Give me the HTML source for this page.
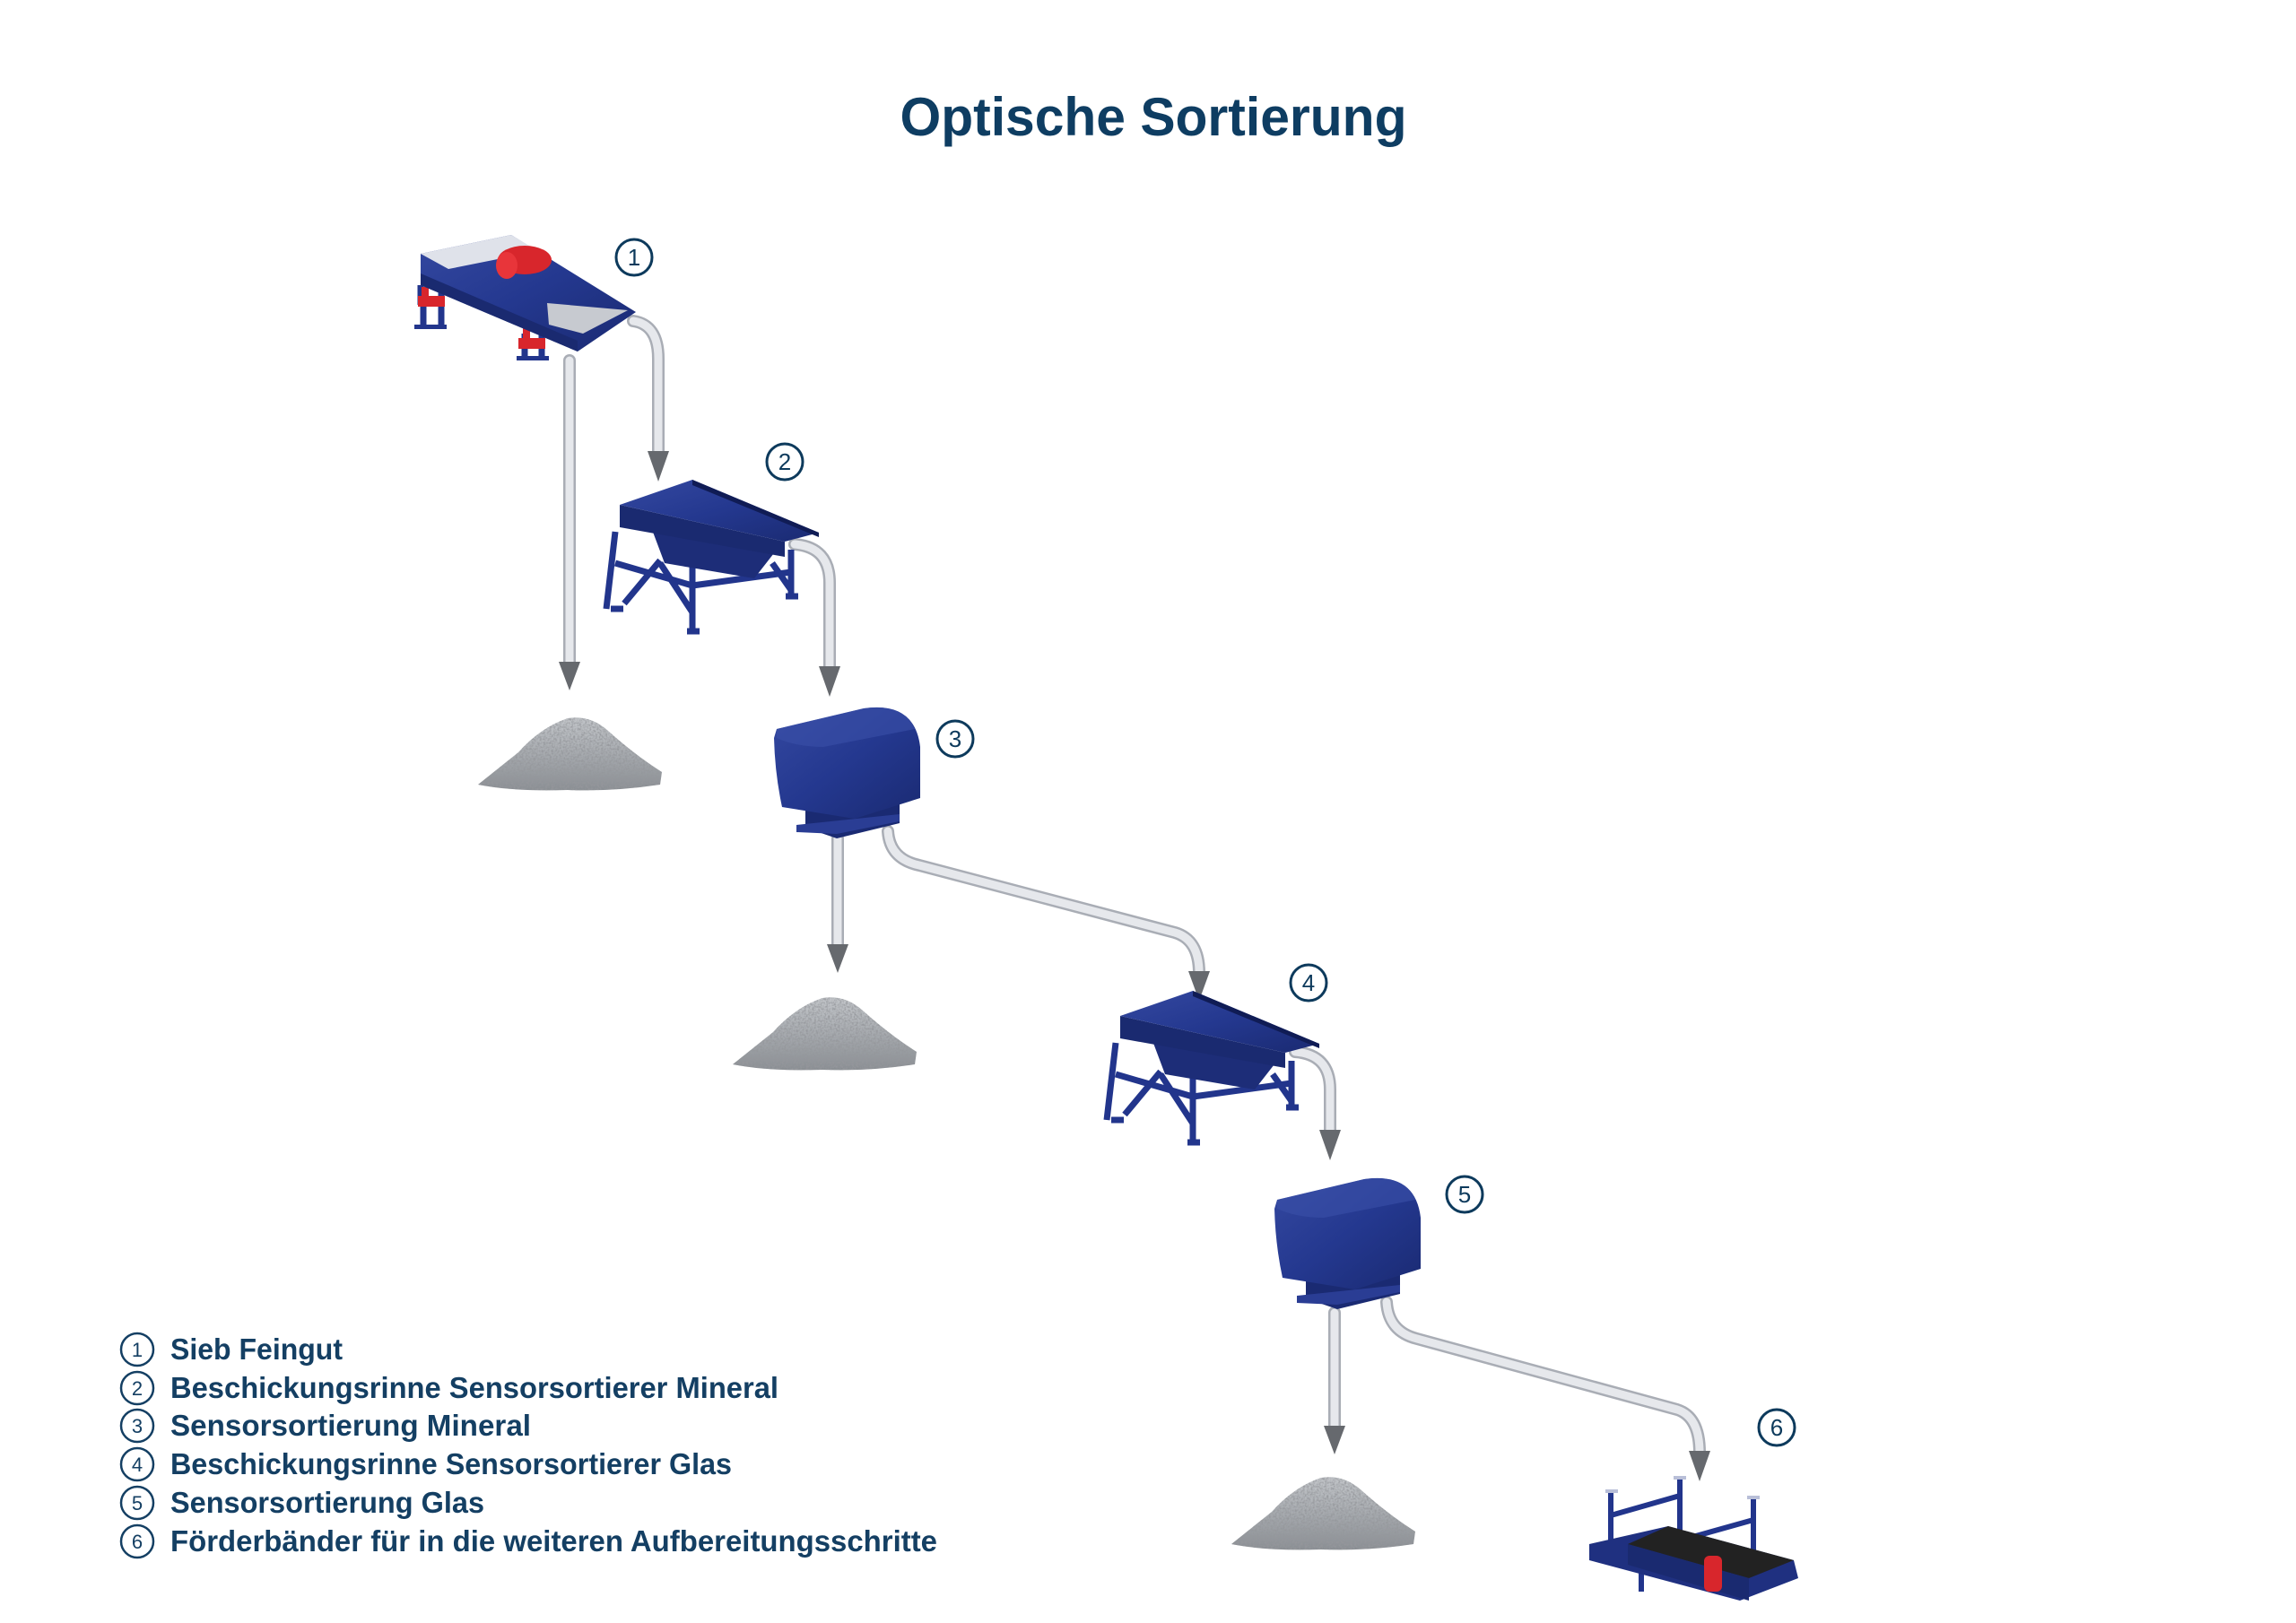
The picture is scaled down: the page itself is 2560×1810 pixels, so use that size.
<!DOCTYPE html>
<html><head><meta charset="utf-8"><style>
html,body{margin:0;padding:0;background:#fff}
svg{display:block}
text{font-family:"Liberation Sans",sans-serif}
</style></head><body>
<svg width="2560" height="1810" viewBox="0 0 2560 1810" xmlns="http://www.w3.org/2000/svg">
<defs>
<linearGradient id="blu" x1="0" y1="0" x2="1" y2="1">
<stop offset="0" stop-color="#3448a0"/><stop offset="0.5" stop-color="#24388f"/><stop offset="1" stop-color="#1a2a72"/>
</linearGradient>
<linearGradient id="pile" x1="0" y1="0" x2="0" y2="1">
<stop offset="0" stop-color="#c4c7cb"/><stop offset="1" stop-color="#8a8e93"/>
</linearGradient>
<filter id="grain" x="0" y="0" width="1" height="1">
<feTurbulence type="fractalNoise" baseFrequency="0.45" numOctaves="2" result="n"/>
<feColorMatrix in="n" type="matrix" values="0 0 0 0 0.3  0 0 0 0 0.31  0 0 0 0 0.33  0 0 0 2.2 -0.8" result="m"/>
<feComposite in="m" in2="SourceGraphic" operator="in" result="c"/>
<feMerge><feMergeNode in="SourceGraphic"/><feMergeNode in="c"/></feMerge>
</filter>
<g id="pileG">
<path d="M0,78 Q20,62 45,42 Q70,14 100,4 Q125,0 145,18 Q175,45 205,64 L203,78 Q150,86 100,84 Q40,86 0,78 Z" fill="url(#pile)" filter="url(#grain)"/>
</g>
<g id="feeder">
<path d="M10,60 L0,146 M5,146 h14 M96,85 L96,171 M90,171 h14 M206,80 L206,132 M200,132 h14 M10,95 L96,120 L206,105 M20,140 L60,92 M96,150 L60,95 M206,125 L185,95" stroke="#22358c" stroke-width="7" fill="none"/>
<path d="M50,55 L190,80 L165,112 L65,95 Z" fill="#1d2d78"/>
<path d="M15,30 L199,71 L199,88 L15,55 Z" fill="#1a2a70"/>
<path d="M15,30 L96,2 L237,61 L199,71 Z" fill="url(#blu)"/>
<path d="M96,2 L237,61 L237,66 L96,8 Z" fill="#101c55"/>
</g>
<g id="sorter">
<path d="M40,105 L145,100 L145,130 L75,147 L40,135 Z" fill="#1a2a72"/>
<path d="M30,132 L145,120 L145,128 L75,142 L30,140 Z" fill="#2a3d94"/>
<path d="M5,35 L8,25 L105,2 Q162,-6 168,45 L168,102 L95,125 L14,112 Q6,75 5,35 Z" fill="url(#blu)"/>
<path d="M8,25 L105,2 Q150,-4 162,25 L60,45 Q30,45 8,35 Z" fill="#3a50a8" opacity="0.6"/>
</g>
</defs>

<text x="1286" y="151" text-anchor="middle" font-size="60" font-weight="bold" fill="#0e3d62" textLength="565" lengthAdjust="spacingAndGlyphs">Optische Sortierung</text>

<g fill="none" stroke-linecap="round" stroke-linejoin="round">
<g stroke="#a9adb5" stroke-width="14">
<path d="M706,358 Q734,362 734,400 L734,505"/>
<path d="M635,402 L635,740"/>
<path d="M886,607 Q925,610 925,650 L925,745"/>
<path d="M934,935 L934,1055"/>
<path d="M990,927 Q992,958 1025,965 L1310,1040 Q1337,1048 1337,1085"/>
<path d="M1444,1173 Q1483,1176 1483,1215 L1483,1262"/>
<path d="M1488,1464 L1488,1592"/>
<path d="M1546,1452 Q1548,1485 1580,1493 L1870,1572 Q1895,1580 1895,1620"/>
</g>
<g stroke="#e6e8ec" stroke-width="9">
<path d="M706,358 Q734,362 734,400 L734,505"/>
<path d="M635,402 L635,740"/>
<path d="M886,607 Q925,610 925,650 L925,745"/>
<path d="M934,935 L934,1055"/>
<path d="M990,927 Q992,958 1025,965 L1310,1040 Q1337,1048 1337,1085"/>
<path d="M1444,1173 Q1483,1176 1483,1215 L1483,1262"/>
<path d="M1488,1464 L1488,1592"/>
<path d="M1546,1452 Q1548,1485 1580,1493 L1870,1572 Q1895,1580 1895,1620"/>
</g>
</g>
<g fill="#66696e">
<path d="M722,503 L746,503 L734,537 Z"/>
<path d="M623,738 L647,738 L635,770 Z"/>
<path d="M913,743 L937,743 L925,777 Z"/>
<path d="M922,1053 L946,1053 L934,1085 Z"/>
<path d="M1325,1083 L1349,1083 L1337,1116 Z"/>
<path d="M1471,1260 L1495,1260 L1483,1294 Z"/>
<path d="M1476,1590 L1500,1590 L1488,1622 Z"/>
<path d="M1883,1618 L1907,1618 L1895,1652 Z"/>
</g>

<g>
<path d="M469,318 L469,340 M472,340 L472,366 M492,322 L492,366 M585,372 L585,400 M604,372 L604,400" stroke="#22358c" stroke-width="7"/>
<rect x="466" y="330" width="30" height="12" fill="#d8262c"/><rect x="578" y="377" width="30" height="12" fill="#d8262c"/>
<rect x="470" y="320" width="8" height="18" fill="#d8262c"/><rect x="583" y="365" width="8" height="16" fill="#d8262c"/>
<rect x="462" y="362" width="36" height="5" fill="#22358c"/><rect x="576" y="397" width="36" height="5" fill="#22358c"/>
<path d="M469,283 L570,262 L709,348 L644,392 L469,318 Z" fill="url(#blu)"/>
<path d="M469,283 L570,262 L600,280 L500,300 Z" fill="#dfe2ea"/>
<path d="M610,338 L700,346 L650,372 L612,362 Z" fill="#c7cad0"/>
<path d="M469,318 L644,392 L644,380 L469,305 Z" fill="#1a2a70"/>
<ellipse cx="585" cy="290" rx="30" ry="16" fill="#d8262c"/>
<ellipse cx="565" cy="296" rx="12" ry="15" fill="#e8353a"/>
</g>

<use href="#feeder" x="676" y="533"/>
<use href="#feeder" x="1234" y="1103"/>
<use href="#sorter" x="858" y="788"/>
<use href="#sorter" x="1416" y="1313"/>
<use href="#pileG" x="533" y="797"/>
<use href="#pileG" x="817" y="1109"/>
<use href="#pileG" x="1373" y="1644"/>

<g>
<path d="M1796,1665 L1796,1745 M1873,1650 L1873,1715 M1830,1717 L1830,1775 M1955,1672 L1955,1760 M1796,1690 L1873,1668 M1830,1730 L1955,1695" stroke="#22358c" stroke-width="6" fill="none"/>
<path d="M1790,1663 h14 M1866,1648 h14 M1823,1715 h14 M1948,1670 h14" stroke="#b9bfd8" stroke-width="4"/>
<path d="M1772,1722 L1860,1702 L2000,1740 L2005,1760 L1940,1785 L1772,1740 Z" fill="#1f3080"/>
<path d="M1860,1702 L2000,1740 L1950,1760 L1815,1722 Z" fill="#222"/>
<path d="M1815,1722 L1950,1760 L1950,1785 L1815,1745 Z" fill="#1a2a70"/>
<rect x="1900" y="1735" width="20" height="40" rx="6" fill="#d8262c"/>
</g>

<g fill="none" stroke="#0d3a5c" stroke-width="3">
<circle cx="707" cy="287" r="20"/><circle cx="875" cy="515" r="20"/><circle cx="1065" cy="824" r="20"/>
<circle cx="1459" cy="1096" r="20"/><circle cx="1633" cy="1332" r="20"/><circle cx="1981" cy="1592" r="20"/>
</g>
<g fill="#0d3a5c" font-size="26" text-anchor="middle">
<text x="707" y="296">1</text><text x="875" y="524">2</text><text x="1065" y="833">3</text>
<text x="1459" y="1105">4</text><text x="1633" y="1341">5</text><text x="1981" y="1601">6</text>
</g>

<g fill="none" stroke="#143f63" stroke-width="2.5">
<circle cx="153" cy="1505" r="18"/><circle cx="153" cy="1548" r="18"/><circle cx="153" cy="1590" r="18"/>
<circle cx="153" cy="1633" r="18"/><circle cx="153" cy="1676" r="18"/><circle cx="153" cy="1719" r="18"/>
</g>
<g fill="#143f63" font-size="22" text-anchor="middle">
<text x="153" y="1513">1</text><text x="153" y="1556">2</text><text x="153" y="1598">3</text>
<text x="153" y="1641">4</text><text x="153" y="1684">5</text><text x="153" y="1727">6</text>
</g>
<g fill="#143f63" font-size="33" font-weight="bold">
<text x="190" y="1516" textLength="192" lengthAdjust="spacingAndGlyphs">Sieb Feingut</text>
<text x="190" y="1559" textLength="678" lengthAdjust="spacingAndGlyphs">Beschickungsrinne Sensorsortierer Mineral</text>
<text x="190" y="1601" textLength="402" lengthAdjust="spacingAndGlyphs">Sensorsortierung Mineral</text>
<text x="190" y="1644" textLength="626" lengthAdjust="spacingAndGlyphs">Beschickungsrinne Sensorsortierer Glas</text>
<text x="190" y="1687" textLength="350" lengthAdjust="spacingAndGlyphs">Sensorsortierung Glas</text>
<text x="190" y="1730" textLength="855" lengthAdjust="spacingAndGlyphs">Förderbänder für in die weiteren Aufbereitungsschritte</text>
</g>
</svg>
</body></html>
